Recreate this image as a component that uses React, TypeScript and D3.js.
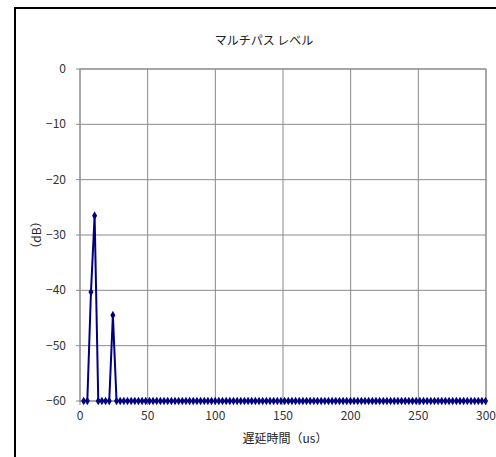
import React from "react";
import * as d3 from "d3";

// Sample spacing of the delay profile, in microseconds
const SAMPLE_US = 2.7;

// Multipath level per delay sample (dB), first sample at 2.7 us
const levels: number[] = [
  -60, -60, -40.3, -26.5, -60, -60, -60, -60, -44.5, -60,
  -60, -60, -60, -60, -60, -60, -60, -60, -60, -60,
  -60, -60, -60, -60, -60, -60, -60, -60, -60, -60,
  -60, -60, -60, -60, -60, -60, -60, -60, -60, -60,
  -60, -60, -60, -60, -60, -60, -60, -60, -60, -60,
  -60, -60, -60, -60, -60, -60, -60, -60, -60, -60,
  -60, -60, -60, -60, -60, -60, -60, -60, -60, -60,
  -60, -60, -60, -60, -60, -60, -60, -60, -60, -60,
  -60, -60, -60, -60, -60, -60, -60, -60, -60, -60,
  -60, -60, -60, -60, -60, -60, -60, -60, -60, -60,
  -60, -60, -60, -60, -60, -60, -60, -60, -60, -60,
  -60,
];

const xTicks = [0, 50, 100, 150, 200, 250, 300];
const yTicks = [0, -10, -20, -30, -40, -50, -60];

const TITLE = "マルチパス レベル";
const X_LABEL = "遅延時間（us）";
const Y_LABEL = "（dB）";

const W = 496;
const H = 457;
const plot = { left: 80, right: 486, top: 69, bottom: 401 };
const FONT = "'Noto Sans CJK JP', 'Noto Sans', sans-serif";
const NAVY = "#000080";
const GRID = "#8a8a8a";

export default function App() {
  const x = d3.scaleLinear().domain([0, 300]).range([plot.left, plot.right]);
  const y = d3.scaleLinear().domain([-60, 0]).range([plot.bottom, plot.top]);

  const points = levels.map((v, i) => ({ t: (i + 1) * SAMPLE_US, v }));
  const line = d3
    .line<{ t: number; v: number }>()
    .x((d) => x(d.t))
    .y((d) => y(d.v));
  const diamond = d3.symbol().type(d3.symbolDiamond).size(22)() as string;

  return (
    <svg
      width={W}
      height={H}
      style={{ position: "absolute", left: 0, top: 0, background: "#fff" }}
      fontFamily={FONT}
    >
      <rect x={0} y={0} width={W} height={H} fill="#fff" />
      {/* chart frame */}
      <rect x={15} y={8} width={600} height={600} fill="none" stroke="#000" strokeWidth={2} />

      <text x={264} y={45} textAnchor="middle" fontSize={12} fill="#222">
        {TITLE}
      </text>

      {/* grid */}
      {yTicks.map((t) => (
        <line key={"gy" + t} x1={plot.left - 4} x2={plot.right} y1={y(t)} y2={y(t)} stroke={GRID} strokeWidth={1} />
      ))}
      {xTicks.map((t) => (
        <line key={"gx" + t} x1={x(t)} x2={x(t)} y1={plot.top} y2={plot.bottom + 4} stroke={GRID} strokeWidth={1} />
      ))}
      <rect
        x={plot.left}
        y={plot.top}
        width={plot.right - plot.left}
        height={plot.bottom - plot.top}
        fill="none"
        stroke={GRID}
        strokeWidth={1}
      />

      {/* tick labels */}
      {yTicks.map((t) => (
        <text key={"ly" + t} x={66} y={y(t) + 4} textAnchor="end" fontSize={12} fill="#333">
          {t === 0 ? "0" : "\u2212" + Math.abs(t)}
        </text>
      ))}
      {xTicks.map((t) => (
        <text key={"lx" + t} x={x(t)} y={420} textAnchor="middle" fontSize={12} fill="#333">
          {t}
        </text>
      ))}

      <text x={285} y={443} textAnchor="middle" fontSize={12} fill="#222">
        {X_LABEL}
      </text>
      <text
        transform={`translate(41, 235) rotate(-90)`}
        textAnchor="middle"
        fontSize={12}
        fill="#222"
      >
        {Y_LABEL}
      </text>

      {/* series */}
      <path d={line(points) || ""} fill="none" stroke={NAVY} strokeWidth={2} strokeLinejoin="round" />
      {points.map((p, i) => (
        <path key={i} d={diamond} transform={`translate(${x(p.t)},${y(p.v)})`} fill={NAVY} />
      ))}
    </svg>
  );
}
